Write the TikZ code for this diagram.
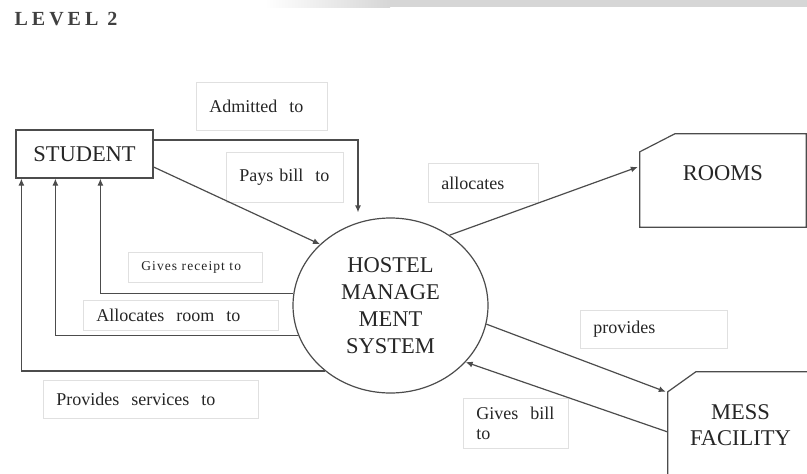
\documentclass[tikz,border=0pt]{standalone}
\usepackage{fontspec}
\setmainfont{Liberation Serif}
\usetikzlibrary{arrows.meta,shapes.geometric}
\begin{document}
\begin{tikzpicture}[x=1pt,y=-1pt,
    flow/.style={draw=black!70,line width=1.2pt,-{Latex[length=7pt,width=6pt]}},
    edge/.style={draw=black!70,line width=1.2pt},
    ent/.style={font=\fontsize{22.5}{26}\selectfont,text=black!85,align=center,inner sep=0pt},
    lbl/.style={draw=black!12,line width=0.8pt,fill=white,anchor=north west,align=left,
      inner xsep=13pt,inner ysep=0pt,font=\fontsize{18}{20}\selectfont,text=black!85}]
  \useasboundingbox (0,0) rectangle (807,474);
  \clip (0,0) rectangle (807,474);
  \shade[left color=white,right color=black!16] (265,0) rectangle (390,7);
  \fill[black!16] (390,0) rectangle (807,7);
  \node[font=\bfseries\fontsize{20}{22}\selectfont\addfontfeature{LetterSpace=20},text=black!75] (lvl) at (66,19) {LEVEL 2};
  % entities and process
  \node[ent,edge,minimum width=137pt,minimum height=48pt] (stu) at (84.5,154) {STUDENT};
  \node[ent,minimum width=166pt,minimum height=93pt,text height=15pt,text depth=15pt] (rooms) at (723,180.5) {ROOMS};
  \draw[edge] (rooms.south west) -- ([yshift=-18pt]rooms.north west) -- ([xshift=35pt]rooms.north west)
    -- (rooms.north east) -- (rooms.south east) -- cycle;
  \node[ent,minimum width=145pt,minimum height=106pt] (mess) at (740.5,425) {MESS\\FACILITY};
  \draw[edge] (mess.south west) -- ([yshift=-20pt]mess.north west) -- ([xshift=28pt]mess.north west) -- (mess.north east);
  \node[ent,edge,ellipse,minimum width=195pt,minimum height=175pt,font=\fontsize{22.5}{27}\selectfont] (hms) at (390.5,305.5)
    {HOSTEL\\MANAGE\\MENT\\SYSTEM};
  % flow labels
  \node[lbl,text width=105pt,minimum height=48pt] (ladm) at (196,82) {Admitted~ to};
  \node[lbl,text width=91pt,minimum height=50pt] (lpay) at (226,152) {Pays bill~ to};
  \node[lbl,text width=108pt,minimum height=30pt,font=\fontsize{13.5}{16}\selectfont\addfontfeature{LetterSpace=8}] (lrec) at (128,252) {Gives receipt to};
  \node[lbl,text width=169pt,minimum height=30pt] (lroom) at (83,300) {Allocates~ room~ to};
  \node[lbl,text width=189pt,minimum height=38pt] (lserv) at (43,380) {Provides~ services~ to};
  \node[lbl,text width=84pt,minimum height=39pt] (lalloc) at (428,163) {allocates};
  \node[lbl,text width=121pt,minimum height=38pt] (lprov) at (580,310) {provides};
  \node[lbl,text width=79pt,minimum height=50pt] (lbill) at (463,398) {Gives~ bill\\to};
  % flows
  \draw[flow] ([yshift=14pt]stu.east) -| ([xshift=-32.5pt,yshift=5pt]hms.north);
  \draw[flow] ([yshift=-13pt]stu.east) -- (hms.139);
  \draw[flow] (hms.50) -- ([xshift=-2pt,yshift=13.5pt]rooms.west);
  \draw[flow] (hms.173) -| ([xshift=85pt]stu.south west);
  \draw[flow] (hms.198) -| ([xshift=40pt]stu.south west);
  \draw[flow] (hms.225) -| ([xshift=6pt]stu.south west);
  \draw[flow] (hms.349) -- ([xshift=-2pt,yshift=-20pt]mess.north west);
  \draw[flow] ([yshift=-7pt]mess.west) -- (hms.323);
\end{tikzpicture}
\end{document}
